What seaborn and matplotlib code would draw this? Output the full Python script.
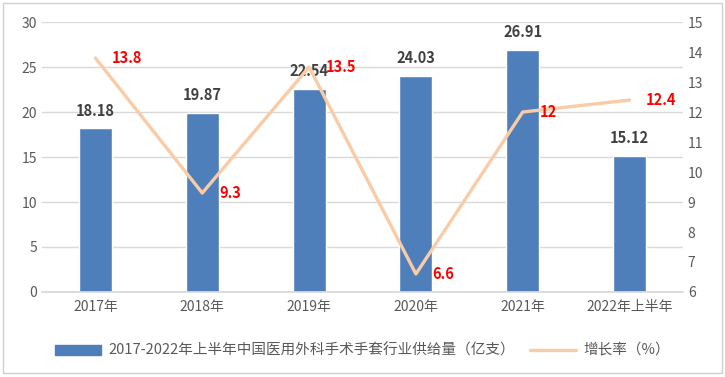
import numpy as np
import pandas as pd
import matplotlib
matplotlib.use("Agg")
import matplotlib.pyplot as plt
import seaborn as sns
from matplotlib.patches import Rectangle
from matplotlib.lines import Line2D
from matplotlib.patches import Patch

years = ["2017年", "2018年", "2019年", "2020年", "2021年", "2022年上半年"]
supply = [18.18, 19.87, 22.54, 24.03, 26.91, 15.12]
growth = [13.8, 9.3, 13.5, 6.6, 12, 12.4]
growth_labels = ["13.8", "9.3", "13.5", "6.6", "12", "12.4"]

bar_name = "2017-2022年上半年中国医用外科手术手套行业供给量（亿支）"
line_name = "增长率（%）"

sns.set_theme(style="white")
plt.rcParams['font.family'] = ['Noto Sans CJK SC', 'DejaVu Sans']

bar_col = "#4F7FBB"
line_col = "#F9CBA7"
tick_col = "#595959"

df = pd.DataFrame({"year": years, "supply": supply})

fig = plt.figure(figsize=(7.25, 3.77), dpi=100)
ax = fig.add_axes([0.058, 0.2255, 0.884, 0.716])
sns.barplot(data=df, x="year", y="supply", color=bar_col, width=0.31,
            saturation=1, ax=ax, zorder=2)
ax.set_ylim(0, 30)
ax.set_yticks(range(0, 31, 5))
ax.set_xlim(-0.5, len(years) - 0.5)
ax.yaxis.grid(True, color="#D9D9D9", linewidth=1, zorder=0)
ax.set_axisbelow(True)
ax.set_xlabel("")
ax.set_ylabel("")
for s in ["top", "right", "left"]:
    ax.spines[s].set_visible(False)
ax.spines["bottom"].set_color("#D9D9D9")
ax.tick_params(axis="both", colors=tick_col, labelsize=10, length=0)
ax.tick_params(axis="x", pad=6)
ax.bar_label(ax.containers[0], labels=[f"{v:.2f}" for v in supply],
             padding=7, fontsize=10.5, fontweight="bold", color="#404040")

ax2 = ax.twinx()
sns.lineplot(x=np.arange(len(years)), y=growth, ax=ax2, color=line_col,
             linewidth=2.4)
ax2.set_ylim(6, 15)
ax2.set_yticks(range(6, 16))
for s in ["top", "right", "left", "bottom"]:
    ax2.spines[s].set_visible(False)
ax2.tick_params(axis="y", colors=tick_col, labelsize=10, length=0)
for i, (g, lab) in enumerate(zip(growth, growth_labels)):
    ax2.annotate(lab, (i, g), xytext=(12, 0), textcoords="offset points",
                 ha="left", va="center", color="#FF0000", fontsize=10.5,
                 fontweight="bold")

handles = [Patch(facecolor=bar_col, edgecolor=bar_col),
           Line2D([0], [0], color=line_col, linewidth=2.4)]
fig.legend(handles, [bar_name, line_name], loc="center",
           bbox_to_anchor=(0.5, 0.07), ncol=2, frameon=False, fontsize=10.5,
           handlelength=3.2, columnspacing=1.0, handletextpad=0.5,
           labelcolor=tick_col)

fig.patches.append(Rectangle((0.004, 0.01), 0.992, 0.982, transform=fig.transFigure,
                             fill=False, edgecolor="#D0D0D0", linewidth=1))

fig.savefig("out.png", dpi=100)
